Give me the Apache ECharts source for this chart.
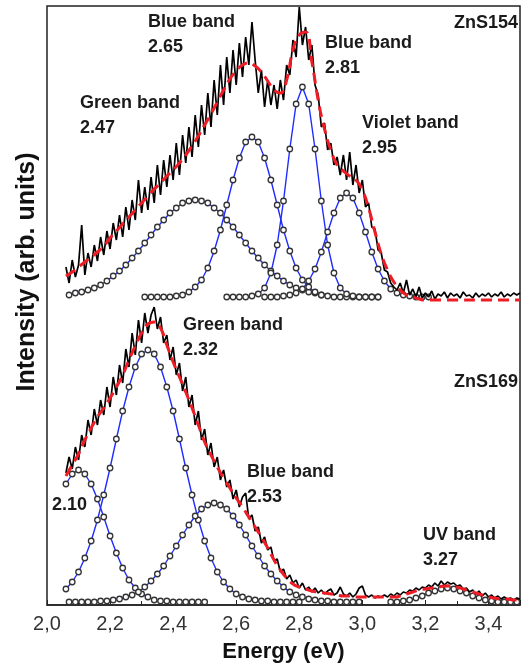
<!DOCTYPE html>
<html>
<head>
<meta charset="utf-8">
<script src="https://cdn.jsdelivr.net/npm/echarts@6/dist/echarts.min.js"></script>
<style>
  html, body { margin: 0; padding: 0; background: #fff; }
  #chart { width: 522px; height: 668px; }
</style>
</head>
<body>
<div id="chart"></div>
<script>
// energy axis (eV) and tick labels
const xTicks = [2.0, 2.2, 2.4, 2.6, 2.8, 3.0, 3.2, 3.4]

// ZnS154 (upper spectrum), measured data every 0.01 eV from 2.06
const topDataStart = 2.06
const topData = [
  338, 322, 345, 328, 340, 380, 330, 352, 338, 360,
  344, 368, 350, 374, 356, 382, 365, 390, 368, 398,
  375, 405, 385, 425, 392, 418, 395, 428, 402, 440,
  410, 445, 418, 450, 425, 462, 430, 470, 442, 478,
  448, 490, 458, 500, 470, 512, 478, 525, 490, 540,
  500, 548, 512, 555, 520, 562, 528, 568, 540, 583,
  545, 512, 535, 498, 525, 500, 520, 496, 525, 505,
  540, 530, 565, 548, 598, 560, 578, 545, 560, 520,
  510, 478, 482, 455, 462, 440, 448, 430, 450, 425,
  453, 420, 440, 412, 425, 398, 402, 378, 376, 355,
  352, 335, 333, 322, 318, 315, 322, 312, 325, 310,
  316, 308, 318, 307, 312, 308, 314, 306, 311, 309,
  313, 307, 312, 309, 311, 307, 313, 309, 310, 307,
  312, 308, 311, 309, 312, 308, 311, 309, 313, 308,
  311, 309, 312, 310, 312
]
// ZnS154 total fit, every 0.02 eV from 2.06
const topFitStart = 2.06
const topFit = [
  329, 333, 338, 343, 348, 353, 359, 367, 374, 381,
  388, 395, 402, 409, 416, 422, 429, 435, 442, 450,
  459, 469, 480, 491, 503, 515, 526, 534, 540, 542,
  539, 533, 524, 515, 512, 525, 555, 570, 573, 543,
  505, 476, 455, 440, 434, 429, 425, 415, 397, 373,
  351, 335, 323, 315, 310, 308, 306, 305, 305, 305,
  305, 305, 305, 305, 305, 305, 305, 305, 305, 305,
  305, 305, 305
]
// ZnS154 fitted bands, every 0.02 eV
const green247Start = 2.07
const green247 = [310, 312, 313, 315, 317, 320, 324, 329, 334, 340, 347, 354, 362, 370, 378, 385, 392, 397, 402, 404,
  405, 404, 402, 397, 392, 385, 378, 370, 362, 354, 347, 340, 334, 329, 324, 320, 317, 315, 313, 312, 310]
const blue265Start = 2.31
const blue265 = [308, 308, 308, 308, 308, 309, 310, 313, 318, 325, 337, 354, 375, 400, 425, 447, 463, 468, 463, 447,
  425, 400, 375, 354, 337, 325, 318, 313, 310, 309, 308, 308, 308, 308, 308, 308, 308, 308]
const blue281Start = 2.57
const blue281 = [308, 308, 308, 308, 309, 311, 317, 332, 360, 404, 456, 501, 518, 501, 456, 404, 360, 332, 317, 311,
  309, 308, 308, 308, 308]
const violet295Start = 2.69
const violet295 = [308, 308, 308, 309, 310, 312, 316, 324, 336, 353, 373, 392, 407, 412, 407, 392, 373, 353, 336, 324,
  316, 312, 310, 309, 308, 308, 308]

// ZnS169 (lower spectrum), measured data every 0.01 eV from 2.06
const botDataStart = 2.06
const botData = [
  132, 148, 136, 158, 145, 170, 158, 185, 170, 196,
  180, 205, 190, 218, 198, 228, 210, 240, 222, 256,
  238, 272, 250, 285, 262, 292, 272, 290, 298, 276,
  288, 262, 270, 245, 258, 230, 242, 214, 228, 198,
  210, 180, 194, 165, 176, 150, 162, 138, 148, 125,
  135, 118, 125, 106, 115, 98, 108, 112, 86, 90,
  74, 78, 62, 68, 55, 58, 44, 46, 33, 36,
  26, 30, 22, 25, 17, 22, 15, 18, 13, 17,
  12, 15, 11, 14, 16, 10, 12, 18, 11, 9,
  12, 8, 11, 17, 19, 10, 8, 10, 7, 9,
  8, 10, 8, 11, 9, 12, 10, 13, 12, 15,
  14, 17, 15, 18, 17, 20, 18, 22, 19, 24,
  20, 23, 21, 22, 19, 20, 16, 17, 13, 15,
  11, 14, 9, 12, 8, 10, 7, 9, 6, 8,
  6, 7, 5, 7, 6
]
// ZnS169 total fit, every 0.02 eV from 2.06
const botFitStart = 2.06
const botFit = [
  129, 140, 151, 165, 177, 188, 197, 207, 218, 230,
  245, 259, 272, 281, 283, 277, 260, 243, 228, 213,
  197, 180, 163, 150, 138, 127, 117, 107, 98, 88,
  78, 68, 57, 45, 35, 27, 21, 18, 16, 14,
  13, 12, 11, 10, 9, 9, 8, 8, 8, 8,
  8, 8, 8, 9, 11, 13, 15, 16, 17, 18,
  19, 19, 18, 16, 14, 12, 10, 8, 7, 6,
  6, 5, 5
]
// ZnS169 fitted bands, every 0.02 eV
const band210Start = 2.06
const band210 = [121, 131, 135, 131, 121, 106, 88, 69, 52, 37, 25, 17, 11, 8, 5, 4, 4, 3, 3, 3, 3, 3, 3]
const green232Start = 2.06
const green232 = [16, 23, 33, 47, 64, 85, 110, 137, 166, 194, 218, 238, 251, 255, 251, 238, 218, 194, 166, 137,
  110, 85, 64, 47, 33, 23, 16, 11, 8, 6, 5, 4, 4, 3, 3, 3, 3, 3]
const blue253Start = 2.07
const blue253 = [3, 3, 3, 3, 3, 4, 4, 5, 6, 8, 10, 13, 18, 24, 31, 39, 49, 59, 70, 80, 89, 96, 100, 102, 100,
  96, 89, 80, 70, 59, 49, 39, 31, 24, 18, 13, 10, 8, 6, 5, 4, 4, 3, 3, 3, 3, 3]
const uv327Start = 3.09
const uv327 = [3, 3, 4, 5, 7, 9, 12, 14, 16, 17, 16, 14, 12, 9, 7, 5, 4, 3, 3, 3, 3]

const FONT = "'Liberation Sans', Arial, sans-serif"

// pair each value with its energy on a regular grid
const toPairs = (start, step, vals) =>
  vals.map((v, i) => [+(start + i * step).toFixed(3), v])

const dataLine = (pts) => ({
  type: 'line', data: pts, showSymbol: false, z: 3,
  lineStyle: { color: '#000', width: 1.7 }
})
const fitLine = (pts) => ({
  type: 'line', data: pts, showSymbol: false, smooth: true, z: 4,
  lineStyle: { color: '#ee1c25', width: 3, type: [11, 6] }
})
const bandLine = (pts) => ({
  type: 'line', data: pts, symbol: 'circle', symbolSize: 5.5, z: 2,
  lineStyle: { color: '#1f2cff', width: 1.4 },
  itemStyle: { color: '#fff', borderColor: '#333', borderWidth: 1.3 }
})

const label = (x, y, text, align) => ({
  type: 'text', x, y,
  style: {
    text, fill: '#1a1a1a', font: `bold 18px ${FONT}`,
    lineHeight: 25, align: align || 'left', verticalAlign: 'top'
  }
})

const chart = echarts.init(document.getElementById('chart'))
chart.setOption({
  animation: false,
  backgroundColor: '#fff',
  grid: { left: 47, right: 2, top: 6, bottom: 63, show: true, borderColor: '#222', borderWidth: 1.5 },
  xAxis: {
    type: 'value', min: 2, max: 3.5, interval: 0.2,
    name: 'Energy (eV)', nameLocation: 'middle', nameGap: 36,
    nameTextStyle: { fontFamily: FONT, fontWeight: 'bold', fontSize: 22, color: '#111' },
    axisLine: { lineStyle: { color: '#222', width: 1.5 } },
    axisTick: { inside: true, length: 5, lineStyle: { color: '#222' } },
    minorTick: { show: true, splitNumber: 2, length: 4, lineStyle: { color: '#222' } },
    splitLine: { show: false },
    axisLabel: {
      fontFamily: FONT, fontSize: 20, color: '#333', margin: 9, showMaxLabel: false,
      formatter: (v) => xTicks.some(t => Math.abs(t - v) < 1e-6) ? v.toFixed(1).replace('.', ',') : ''
    }
  },
  yAxis: {
    type: 'value', min: 0, max: 599,
    axisLine: { show: false }, axisTick: { show: false },
    axisLabel: { show: false }, splitLine: { show: false }
  },
  series: [
    bandLine(toPairs(green247Start, 0.02, green247)),
    bandLine(toPairs(blue265Start, 0.02, blue265)),
    bandLine(toPairs(blue281Start, 0.02, blue281)),
    bandLine(toPairs(violet295Start, 0.02, violet295)),
    bandLine(toPairs(band210Start, 0.02, band210)),
    bandLine(toPairs(green232Start, 0.02, green232)),
    bandLine(toPairs(blue253Start, 0.02, blue253)),
    bandLine(toPairs(uv327Start, 0.02, uv327)),
    dataLine(toPairs(topDataStart, 0.01, topData)),
    dataLine(toPairs(botDataStart, 0.01, botData)),
    fitLine(toPairs(topFitStart, 0.02, topFit)),
    fitLine(toPairs(botFitStart, 0.02, botFit))
  ],
  graphic: [
    {
      type: 'text', x: 27, y: 272, rotation: Math.PI / 2,
      style: {
        text: 'Intensity (arb. units)', fill: '#111', font: `bold 25px ${FONT}`,
        align: 'center', verticalAlign: 'middle'
      }
    },
    label(148, 10, 'Blue band\n2.65'),
    label(80, 91, 'Green band\n2.47'),
    label(325, 31, 'Blue band\n2.81'),
    label(362, 111, 'Violet band\n2.95'),
    label(518, 11, 'ZnS154', 'right'),
    label(183, 313, 'Green band\n2.32'),
    label(518, 370, 'ZnS169', 'right'),
    label(247, 460, 'Blue band\n2.53'),
    label(423, 523, 'UV band\n3.27'),
    label(52, 493, '2.10')
  ]
})
</script>
</body>
</html>
